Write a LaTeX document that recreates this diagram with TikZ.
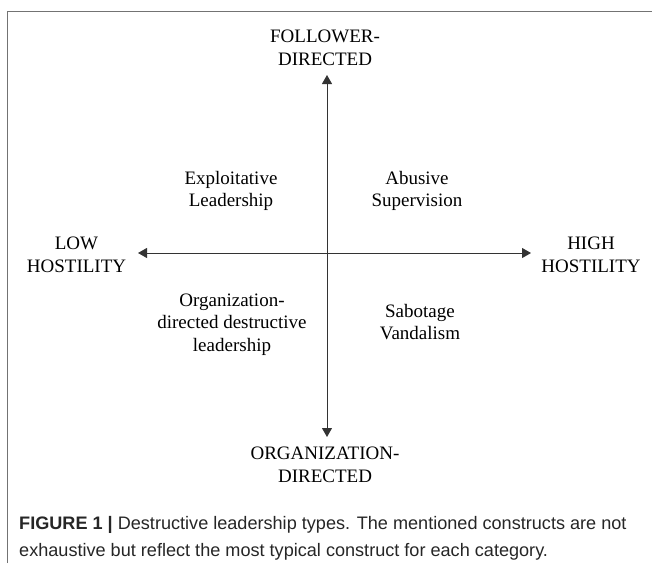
\documentclass[tikz,border=0pt]{standalone}
\usepackage{fontspec}
\setmainfont{Liberation Serif}
\newfontfamily\capfont{Liberation Sans}
\usetikzlibrary{arrows.meta}
\begin{document}
\begin{tikzpicture}[x=1pt,y=-1pt,
  lbl/.style={align=center,inner sep=0pt,font=\fontsize{19}{22.5}\selectfont,text=black},
  axis/.style={line width=1pt,draw=black!80,{Triangle[length=9pt,width=10pt]}-{Triangle[length=9pt,width=10pt]}},
  frame/.style={line width=1.5pt,draw=black!55}]
\useasboundingbox (0,0) rectangle (652,563);
\draw[frame] (7.5,563) -- (7.5,11.5) -- (652,11.5);
% axis end points
\coordinate (top) at (327,75);
\coordinate (bot) at (327,437);
\coordinate (left) at (138,253);
\coordinate (right) at (531,253);
\draw[axis] (bot) -- (top);
\draw[axis] (left) -- (right);
% axis labels
\node[lbl] (fd) at (325,48) {FOLLOWER-\\DIRECTED};
\node[lbl] (od) at (325,465) {ORGANIZATION-\\DIRECTED};
\node[lbl] (lh) at (76.5,255) {LOW\\HOSTILITY};
\node[lbl] (hh) at (591,255) {HIGH\\HOSTILITY};
% quadrants
\node[lbl] (el) at (231,191) {Exploitative\\Leadership};
\node[lbl] (as) at (417,191) {Abusive\\Supervision};
\node[lbl] (odl) at (232,324.5) {Organization-\\directed destructive\\leadership};
\node[lbl] (sv) at (420,322) {Sabotage\\Vandalism};
% caption (base anchor = baseline of the last line)
\node[anchor=base west,inner sep=0pt,font=\capfont\fontsize{18.1}{27}\selectfont,text=black!85,align=left] (cap) at (19,556)
 {\textbf{FIGURE 1 |} Destructive leadership types. The mentioned constructs are not\\exhaustive but reflect the most typical construct for each category.};
\end{tikzpicture}
\end{document}
